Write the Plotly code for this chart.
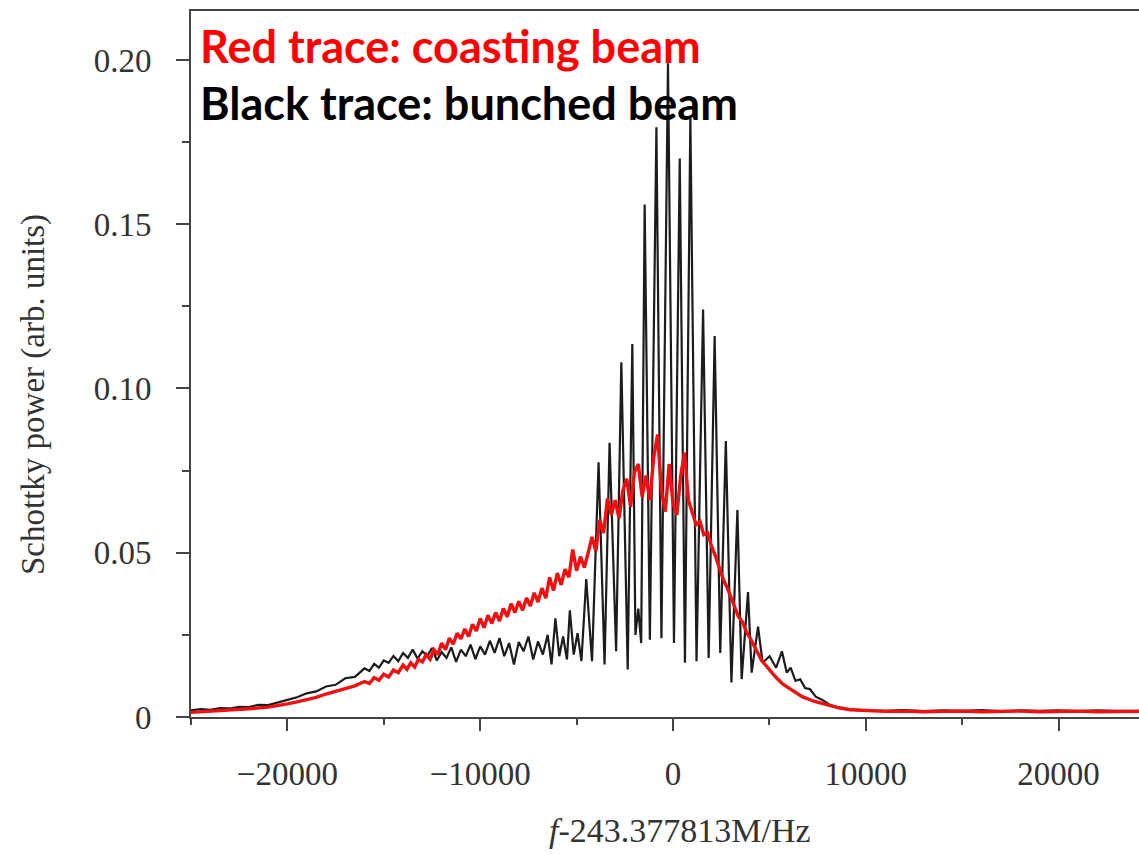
import plotly.graph_objects as go

# ---------------- data ----------------
black_freq = [
    -25000, -24500, -24000, -23500, -23000, -22500, -22000, -21500, -21000, -20500,
    -20000, -19500, -19000, -18500, -18000, -17500, -17000, -16500, -16000, -15750,
    -15500, -15250, -15000, -14750, -14500, -14250, -14000, -13750, -13500, -13250,
    -13000, -12750, -12500, -12250, -12000, -11750, -11500, -11250, -11000, -10750,
    -10500, -10250, -10000, -9750, -9500, -9250, -9000, -8750, -8500, -8250,
    -8000, -7750, -7500, -7250, -7000, -6750, -6500, -6300, -6100, -5900,
    -5700, -5500, -5350, -5150, -4950, -4750, -4500, -4200, -3860, -3550,
    -3290, -2950, -2680, -2350, -2110, -1950, -1800, -1650, -1470, -1200,
    -860, -600, -260, 50, 350, 620, 900, 1220, 1560, 1850,
    2160, 2450, 2740, 3030, 3340, 3560, 3890, 4080, 4410, 4650,
    5010, 5350, 5650, 5900, 6100, 6350, 6600, 6850, 7100, 7400,
    7750, 8100, 8500, 9000, 9500, 10000, 11000, 12000, 13000, 14000,
    15000, 16000, 17000, 18000, 19000, 20000, 21000, 22000, 23000, 24200,
]
black_power = [
    0.0020, 0.0024, 0.0022, 0.0027, 0.0026, 0.0031, 0.0030, 0.0037, 0.0036, 0.0045,
    0.0052, 0.0060, 0.0072, 0.0078, 0.0093, 0.0098, 0.0118, 0.0122, 0.0148, 0.0140,
    0.0162, 0.0150, 0.0172, 0.0165, 0.0186, 0.0170, 0.0195, 0.0180, 0.0205, 0.0178,
    0.0200, 0.0185, 0.0210, 0.0172, 0.0198, 0.0180, 0.0212, 0.0168, 0.0205, 0.0185,
    0.0220, 0.0176, 0.0215, 0.0190, 0.0232, 0.0195, 0.0240, 0.0185, 0.0225, 0.0160,
    0.0228, 0.0200, 0.0245, 0.0175, 0.0230, 0.0190, 0.0250, 0.0160, 0.0300, 0.0185,
    0.0245, 0.0175, 0.0325, 0.0190, 0.0255, 0.0170, 0.0420, 0.0170, 0.0775, 0.0160,
    0.0835, 0.0200, 0.1080, 0.0145, 0.1135, 0.0250, 0.0330, 0.0225, 0.1560, 0.0235,
    0.1795, 0.0240, 0.1990, 0.0225, 0.1700, 0.0165, 0.1825, 0.0170, 0.1240, 0.0180,
    0.1160, 0.0195, 0.0840, 0.0105, 0.0630, 0.0115, 0.0380, 0.0135, 0.0275, 0.0165,
    0.0185, 0.0150, 0.0200, 0.0135, 0.0150, 0.0110, 0.0115, 0.0088, 0.0085, 0.0062,
    0.0052, 0.0038, 0.0030, 0.0024, 0.0021, 0.0020, 0.0019, 0.0021, 0.0018, 0.0020,
    0.0019, 0.0021, 0.0018, 0.0020, 0.0019, 0.0020, 0.0018, 0.0020, 0.0019, 0.0019,
]

red_freq = [
    -25000, -24000, -23000, -22000, -21000, -20500, -20000, -19500, -19000, -18500,
    -18000, -17500, -17000, -16500, -16000, -15750, -15500, -15250, -15000, -14750,
    -14500, -14250,
    -14000, -13800, -13600, -13400, -13200, -13000, -12800, -12600, -12400, -12200,
    -12000, -11800, -11600, -11400, -11200, -11000, -10800, -10600, -10400, -10200,
    -10000, -9800, -9600, -9400, -9200, -9000, -8800, -8600, -8400, -8200,
    -8000, -7800, -7600, -7400, -7200, -7000, -6800, -6600, -6400, -6200,
    -6000, -5800, -5600, -5400, -5200, -5000, -4800, -4600, -4400, -4200,
    -4000, -3800, -3600, -3400, -3200, -3000, -2800, -2600, -2400, -2200,
    -2000, -1800, -1600, -1400, -1200, -1000, -800, -600, -400, -200,
    0, 200, 400, 600, 800, 1000, 1200, 1400, 1600, 1800,
    2000, 2200, 2400, 2600, 2800, 3000, 3200, 3400, 3600, 3800,
    4000, 4200, 4400, 4600, 4800, 5000,
    5350, 5700, 6200, 6700, 7300, 8000, 8600, 9200, 10000,
    11000, 12000, 13000, 14000, 15000, 16000, 17000, 18000, 19000, 20000,
    21000, 22000, 23000, 24200,
]
red_power = [
    0.0014, 0.0017, 0.0020, 0.0025, 0.0030, 0.0034, 0.0040, 0.0046, 0.0053, 0.0060,
    0.0070, 0.0078, 0.0088, 0.0095, 0.0108, 0.0102, 0.0120, 0.0112, 0.0130, 0.0122,
    0.0143, 0.0135,
    0.0158, 0.0145, 0.0165, 0.0152, 0.0175, 0.0168, 0.0190, 0.0176, 0.0205, 0.0190,
    0.0225, 0.0205, 0.0240, 0.0222, 0.0255, 0.0238, 0.0268, 0.0245, 0.0282, 0.0262,
    0.0300, 0.0272, 0.0310, 0.0285, 0.0318, 0.0292, 0.0330, 0.0305, 0.0345, 0.0318,
    0.0352, 0.0325, 0.0362, 0.0338, 0.0378, 0.0350, 0.0392, 0.0362, 0.0425, 0.0385,
    0.0438, 0.0402, 0.0450, 0.0425, 0.0510, 0.0445, 0.0488, 0.0455, 0.0500, 0.0548,
    0.0505, 0.0600, 0.0560, 0.0665, 0.0615, 0.0660, 0.0605, 0.0690, 0.0725, 0.0640,
    0.0745, 0.0770, 0.0670, 0.0735, 0.0660, 0.0790, 0.0860, 0.0690, 0.0625, 0.0770,
    0.0650, 0.0615, 0.0735, 0.0805, 0.0660, 0.0625, 0.0585, 0.0595, 0.0555, 0.0560,
    0.0520, 0.0490, 0.0455, 0.0420, 0.0395, 0.0365, 0.0340, 0.0305, 0.0290, 0.0260,
    0.0240, 0.0215, 0.0195, 0.0172, 0.0158, 0.0142,
    0.0120, 0.0100, 0.0080, 0.0062, 0.0048, 0.0036, 0.0028, 0.0022, 0.0019,
    0.0017, 0.0018, 0.0016, 0.0017, 0.0018, 0.0016, 0.0017, 0.0018, 0.0016, 0.0017,
    0.0018, 0.0016, 0.0017, 0.0017,
]

x_tick_vals = [-20000, -10000, 0, 10000, 20000]
x_tick_text = ["\u221220000", "\u221210000", "0", "10000", "20000"]
y_tick_vals = [0, 0.05, 0.10, 0.15, 0.20]
y_tick_text = ["0", "0.05", "0.10", "0.15", "0.20"]

# ---------------- figure ----------------
W, H = 1139, 854
ML, MR, MT, MB = 191, 0, 11, 137
PW, PH = W - ML - MR, H - MT - MB

fig = go.Figure()
fig.add_trace(go.Scatter(x=black_freq, y=black_power, mode="lines",
                         line=dict(color="#1c1c1c", width=2.2), showlegend=False))
fig.add_trace(go.Scatter(x=red_freq, y=red_power, mode="lines",
                         line=dict(color="#f01010", width=3.4), showlegend=False))

axis_font = dict(family="Liberation Serif, Times New Roman, serif", size=33, color="#333333")

fig.update_layout(
    width=W, height=H,
    margin=dict(l=ML, r=MR, t=MT, b=MB, pad=0),
    paper_bgcolor="white", plot_bgcolor="white",
    xaxis=dict(range=[-25000, 24170], showgrid=False, zeroline=False,
               showline=True, linecolor="#444444", linewidth=2, mirror=True,
               ticks="outside", ticklen=12, tickwidth=2, tickcolor="#444444",
               tickvals=x_tick_vals, ticktext=x_tick_text, tickfont=axis_font,
               ticklabelstandoff=14,
               minor=dict(ticks="outside", ticklen=6, tickwidth=2,
                          tickcolor="#444444", dtick=5000, tick0=0)),
    yaxis=dict(range=[0, 0.2149], showgrid=False, zeroline=False,
               showline=True, linecolor="#444444", linewidth=2,
               ticks="outside", ticklen=13, tickwidth=2, tickcolor="#444444",
               tickvals=y_tick_vals, ticktext=y_tick_text, tickfont=axis_font,
               ticklabelstandoff=18,
               minor=dict(ticks="outside", ticklen=7, tickwidth=2,
                          tickcolor="#444444", dtick=0.025, tick0=0)),
)

def px_x(p):
    return (p - ML) / PW

def px_y(p):
    return (MT + PH - p) / PH

label_font = "Lato, Open Sans, sans-serif"
fig.add_annotation(text="<b>Red trace: coasting beam</b>", xref="paper", yref="paper",
                   x=px_x(198), y=px_y(46), xanchor="left", yanchor="middle",
                   showarrow=False, font=dict(family=label_font, size=45, color="#ff0000"))
fig.add_annotation(text="<b>Black trace: bunched beam</b>", xref="paper", yref="paper",
                   x=px_x(198), y=px_y(103), xanchor="left", yanchor="middle",
                   showarrow=False, font=dict(family=label_font, size=45, color="#000000"))

fig.add_annotation(text="<i>f</i>-243.377813M/Hz", xref="paper", yref="paper",
                   x=px_x(680), y=px_y(830), xanchor="center", yanchor="middle",
                   showarrow=False, font=dict(family="Liberation Serif, serif", size=34, color="#333333"))
fig.add_annotation(text="Schottky power (arb. units)", xref="paper", yref="paper",
                   x=px_x(33), y=px_y(395), xanchor="center", yanchor="middle",
                   textangle=-90, showarrow=False,
                   font=dict(family="Liberation Serif, serif", size=33, color="#333333"))

fig.write_html("out.html")
